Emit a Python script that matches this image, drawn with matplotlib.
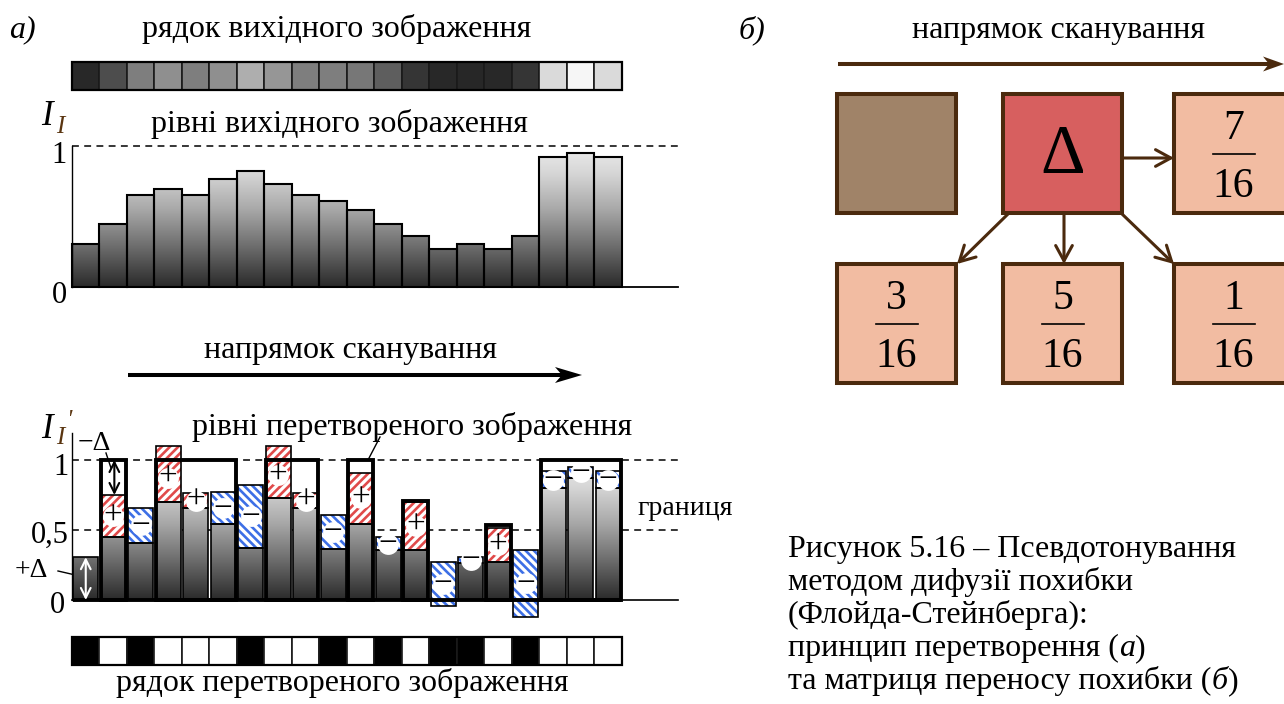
import numpy as np
import matplotlib
matplotlib.use("Agg")
import matplotlib.pyplot as plt
from matplotlib.patches import Rectangle, Polygon, FancyArrowPatch, PathPatch
from matplotlib.path import Path
from matplotlib.colors import LinearSegmentedColormap

# ---------------- data ----------------
# intensity of each pixel in the source row (0 = black, 1 = white)
source_levels = [0.306, 0.448, 0.656, 0.697, 0.656, 0.768, 0.822, 0.732, 0.656, 0.609,
                 0.543, 0.448, 0.360, 0.273, 0.306, 0.273, 0.360, 0.922, 0.953, 0.922]
# the same pixels after the diffused error of previous pixels has been added
levels_with_error = [0.306, 0.750, 0.410, 1.100, 0.762, 0.540, 0.374, 1.100, 0.762, 0.364,
                     0.910, 0.357, 0.702, -0.043, 0.262, 0.512, -0.124, 0.798, 0.869, 0.798]
# height of the bold frame that marks a pixel set to white
frame_heights = [0, 1, 0, 1, 1, 1, 0, 1, 1, 0, 1, 0, 0.71, 0, 0, 0.535, 0, 1, 1, 1]
# grey value (0..255) of every cell of the source row strip
source_row_gray = [40, 77, 126, 143, 126, 143, 174, 150, 126, 126,
                   119, 94, 53, 40, 39, 40, 53, 218, 246, 218]
threshold = 0.5
output_row = [1 if v >= threshold else 0 for v in levels_with_error]

top_ticks = [(1, "1"), (0, "0")]
bottom_ticks = [(1, "1"), (0.5, "0,5"), (0, "0")]

# Floyd-Steinberg error distribution weights (numerator, denominator)
weight_right = ("7", "16")
weight_down_left = ("3", "16")
weight_down = ("5", "16")
weight_down_right = ("1", "16")

caption_lines = [
    [("Рисунок 5.16 – Псевдотонування", "normal")],
    [("методом дифузії похибки", "normal")],
    [("(Флойда-Стейнберга):", "normal")],
    [("принцип перетворення (", "normal"), ("а", "italic"), (")", "normal")],
    [("та матриця переносу похибки (", "normal"), ("б", "italic"), (")", "normal")],
]

# ---------------- style ----------------
plt.rcParams["font.family"] = ["Liberation Serif", "DejaVu Serif"]
plt.rcParams["hatch.linewidth"] = 1.9
W, H, DPI = 1284, 704, 100
BROWN = "#4b2a0e"
RED = "#e04a4a"
BLUE = "#3d6fe6"
FS = 23

fig = plt.figure(figsize=(W / DPI, H / DPI), dpi=DPI)
fig.patch.set_facecolor("white")
canvas = fig.add_axes([0, 0, 1, 1])
canvas.set_xlim(0, W)
canvas.set_ylim(H, 0)
canvas.axis("off")


def pixel_axes(x0, y0, sx, sy, left, right, top, bottom):
    """Axes whose data origin sits at pixel (x0, y0) with sx/sy pixels per unit."""
    ax = fig.add_axes([left / W, 1 - bottom / H, (right - left) / W, (bottom - top) / H])
    ax.set_xlim((left - x0) / sx, (right - x0) / sx)
    ax.set_ylim((y0 - bottom) / sy, (y0 - top) / sy)
    ax.set_autoscale_on(False)
    ax.axis("off")
    return ax


ramp = LinearSegmentedColormap.from_list(
    "ramp", [(0, "#2a2a2a"), (0.3, "#707070"), (0.55, "#a8a8a8"), (0.8, "#d5d5d5"), (1, "#ededed")])


def shaded(ax, lefts, width, bottoms, tops, z):
    paths = []
    for l, b, t in zip(lefts, bottoms, tops):
        if t - b <= 0:
            continue
        paths.append(Path([(l, b), (l + width, b), (l + width, t), (l, t), (l, b)],
                          [Path.MOVETO, Path.LINETO, Path.LINETO, Path.LINETO, Path.CLOSEPOLY]))
    clip = PathPatch(Path.make_compound_path(*paths), transform=ax.transData,
                     facecolor="none", edgecolor="none")
    ax.add_patch(clip)
    grad = np.linspace(0, 1, 256).reshape(-1, 1)
    im = ax.imshow(grad, cmap=ramp, extent=[min(lefts), max(lefts) + width, 0, 1],
                   origin="lower", aspect="auto", interpolation="bilinear", zorder=z)
    im.set_clip_path(clip)


def stealth(x0, x1, y, color, lw, head_len, half_w, notch):
    canvas.plot([x0, x1 - head_len + notch + 1], [y, y], color=color, lw=lw, solid_capstyle="butt")
    canvas.add_patch(Polygon([(x1, y), (x1 - head_len, y - half_w), (x1 - head_len + notch, y),
                              (x1 - head_len, y + half_w)], closed=True, color=color, lw=0))


def runs_text(x, y, runs, size):
    r = fig.canvas.get_renderer()
    for s, st in runs:
        t = canvas.text(x, y, s, fontsize=size, style=st, ha="left", va="baseline")
        x += t.get_window_extent(r).width


n = len(source_levels)
idx = np.arange(n)
X0, DX = 72, 27.5

# ---------------- panel a: titles ----------------
canvas.text(9, 37, "а)", fontsize=FS, style="italic", va="baseline")
canvas.text(337, 37, "рядок вихідного зображення", fontsize=FS, ha="center", va="baseline")
canvas.text(339, 132, "рівні вихідного зображення", fontsize=FS, ha="center", va="baseline")
canvas.text(351, 358, "напрямок сканування", fontsize=FS, ha="center", va="baseline")
canvas.text(412, 435, "рівні перетвореного зображення", fontsize=FS, ha="center", va="baseline")
canvas.text(342, 691, "рядок перетвореного зображення", fontsize=FS, ha="center", va="baseline")
canvas.text(637, 515, "границя", fontsize=20, ha="left", va="baseline")

# axis symbols
canvas.text(41, 125, "I", fontsize=25, style="italic", va="baseline")
canvas.text(56, 133, "I", fontsize=18, style="italic", color="#5a3510", va="baseline")
canvas.text(41, 438, "I", fontsize=25, style="italic", va="baseline")
canvas.text(56, 444, "I", fontsize=18, style="italic", color="#5a3510", va="baseline")
canvas.text(66, 427, "'", fontsize=18, style="italic", color="#5a3510", va="baseline")

# scan direction arrow
stealth(128, 582, 375, "black", 2.9, 27, 8, 7)

# source row strip
strip_top = pixel_axes(X0, 90, DX, 28, 40, 660, 50, 100)
strip_top.bar(idx, np.ones(n), width=1, align="edge",
              color=[(g / 255, g / 255, g / 255) for g in source_row_gray],
              edgecolor="#1a1a1a", linewidth=1.2)
strip_top.add_patch(Rectangle((0, 0), n, 1, fill=False, edgecolor="black", lw=1.6))

# output row strip
strip_bot = pixel_axes(X0, 665, DX, 28, 40, 660, 625, 675)
strip_bot.bar(idx, np.ones(n), width=1, align="edge",
              color=["white" if b else "black" for b in output_row],
              edgecolor="#1a1a1a", linewidth=1.2)
strip_bot.add_patch(Rectangle((0, 0), n, 1, fill=False, edgecolor="black", lw=1.6))

# ---------------- source levels chart ----------------
top = pixel_axes(X0, 287, DX, 141, 0, 700, 95, 320)
x_end = (678 - X0) / DX
shaded(top, idx, 1.0, np.zeros(n), source_levels, 2)
top.bar(idx, source_levels, width=1.0, align="edge", facecolor="none",
        edgecolor="black", linewidth=1.5, zorder=3)
top.plot([0, x_end], [1, 1], color="black", lw=1.1, ls=(0, (4.5, 3.5)), zorder=1)
top.plot([0, x_end], [0, 0], color="black", lw=1.3, zorder=4)
top.plot([0, 0], [0, 1], color="black", lw=1.0, zorder=4)
for v, lab in top_ticks:
    yy = 287 - 141 * v
    canvas.text(67, yy + (17 if v == 1 else 16), lab, fontsize=22, ha="right", va="baseline")

# ---------------- converted levels chart ----------------
bot = pixel_axes(X0, 600, DX, 140, 0, 700, 400, 640)
pad, bw = 0.04, 0.92
gray_tops = [max(0.0, min(s, e)) for s, e in zip(source_levels, levels_with_error)]
shaded(bot, idx + pad, bw, np.zeros(n), gray_tops, 2)
bot.bar(idx + pad, gray_tops, width=bw, align="edge", facecolor="none",
        edgecolor="black", linewidth=1.2, zorder=3)

signs = []
for i, (s, e) in enumerate(zip(source_levels, levels_with_error)):
    if abs(e - s) < 1e-9:
        continue
    lo, hi = min(s, e), max(s, e)
    col, hat, sign = (RED, "////", "+") if e > s else (BLUE, "\\\\\\\\", "−")
    bot.bar(i + pad, hi - lo, bottom=lo, width=bw, align="edge", color="white",
            edgecolor=col, hatch=hat, linewidth=0, zorder=2)
    bot.bar(i + pad, hi - lo, bottom=lo, width=bw, align="edge", facecolor="none",
            edgecolor="black", linewidth=1.2, zorder=3)
    signs.append((i + 0.5, (lo + min(hi, 1.05)) / 2, sign))

for x, y, sgn in signs:
    bot.plot(x, y, "o", ms=15, mfc="white", mec="none", zorder=5)
    bot.text(x, y, sgn, fontsize=24, ha="center", va="center", zorder=6)

bot.plot([0, x_end], [1, 1], color="black", lw=1.1, ls=(0, (4.5, 3.5)), zorder=1)
bot.plot([0, x_end], [0.5, 0.5], color="black", lw=1.1, ls=(0, (4.5, 3.5)), zorder=1)
bot.plot([0, x_end], [0, 0], color="black", lw=1.2, zorder=4)
bot.plot([0, 0], [0, 1.19], color="black", lw=1.0, zorder=4)
bot.plot([pad, n - pad], [0, 0], color="black", lw=2.8, solid_capstyle="butt", zorder=7)

# bold frames of white output pixels, merged over runs of equal height
i = 0
while i < n:
    h = frame_heights[i]
    if h > 0:
        j = i
        while j + 1 < n and frame_heights[j + 1] == h:
            j += 1
        bot.add_patch(Rectangle((i + pad, 0), (j - i) + bw, h, fill=False, edgecolor="black",
                                lw=2.8, joinstyle="miter", zorder=7))
        i = j + 1
    else:
        i += 1

for v, lab in bottom_ticks:
    yy = 600 - 140 * v
    canvas.text(69 if v else 65, yy + (15 if v == 1 else 13), lab, fontsize=22, ha="right", va="baseline")

# error arrows
bot.add_patch(FancyArrowPatch((0.5, 0.0), (0.5, source_levels[0]), arrowstyle="<->,head_length=0.5,head_width=0.25",
                              mutation_scale=14, color="white", lw=1.5, zorder=8, shrinkA=0, shrinkB=0))
bot.add_patch(FancyArrowPatch((1.54, 1.0), (1.54, levels_with_error[1]), arrowstyle="<->,head_length=0.5,head_width=0.25",
                              mutation_scale=14, color="black", lw=1.5, zorder=8, shrinkA=0, shrinkB=0))
canvas.text(78, 450, "−Δ", fontsize=20, va="baseline")
canvas.plot([106, 111], [453, 468], color="black", lw=1.0)
canvas.text(15, 577, "+Δ", fontsize=20, va="baseline")
canvas.plot([58, 84], [571, 577], color="black", lw=1.0)
canvas.plot([380, 368], [437, 460], color="black", lw=1.0)

# ---------------- panel b: error transfer matrix ----------------
canvas.text(739, 38, "б)", fontsize=FS, style="italic", va="baseline")
canvas.text(1058, 38, "напрямок сканування", fontsize=FS, ha="center", va="baseline")
stealth(838, 1284, 64, BROWN, 2.9, 21, 7.5, 6)

S = 119
cols = [837, 1003, 1174]
rows = [94, 264]
cells = [
    (0, 0, "#a08368", None),
    (1, 0, "#d75f5f", None),
    (2, 0, "#f2bca2", weight_right),
    (0, 1, "#f2bca2", weight_down_left),
    (1, 1, "#f2bca2", weight_down),
    (2, 1, "#f2bca2", weight_down_right),
]
for c, r, fc, frac in cells:
    x, y = cols[c], rows[r]
    canvas.add_patch(Rectangle((x, y), S, S, facecolor=fc, edgecolor=BROWN, lw=2.9, joinstyle="miter"))
    if frac:
        cx = x + S / 2
        canvas.text(cx, y + 45, frac[0], fontsize=30, ha="center", va="baseline")
        canvas.plot([cx - 21, cx + 21], [y + 59.5, y + 59.5], color="black", lw=1.2)
        canvas.text(cx, y + 103, frac[1], fontsize=30, ha="center", va="baseline")
canvas.text(cols[1] + S / 2, 173, "Δ", fontsize=50, ha="center", va="baseline")

arrow_kw = dict(arrowstyle="->,head_length=0.55,head_width=0.3", mutation_scale=20,
                color=BROWN, lw=2.2, shrinkA=0, shrinkB=0)
for p0, p1 in [((1123, 158), (1174, 158)), ((1008, 214), (957, 264)),
               ((1064, 214), (1064, 264)), ((1121, 213), (1174, 264))]:
    canvas.add_patch(FancyArrowPatch(p0, p1, **arrow_kw))

# ---------------- caption ----------------
for k, runs in enumerate(caption_lines):
    runs_text(788, 557 + 33 * k, runs, FS)

fig.savefig("out.png", dpi=DPI, facecolor="white")
